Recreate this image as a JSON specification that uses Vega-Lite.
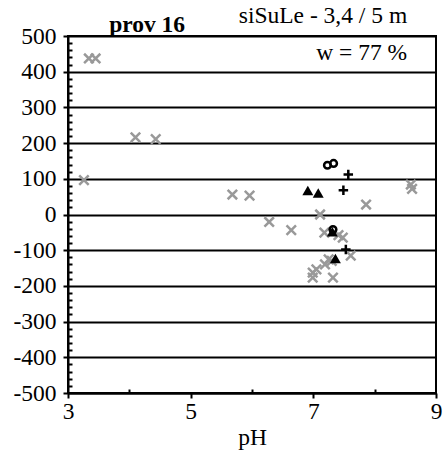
{
  "$schema": "https://vega.github.io/schema/vega-lite/v6.json",
  "width": 368,
  "height": 357,
  "autosize": {"type": "none"},
  "padding": {"left": 68, "top": 36, "right": 10, "bottom": 61},
  "background": "white",
  "config": {
    "view": {"stroke": "black", "strokeWidth": 2},
    "font": "Liberation Serif"
  },
  "data": {
    "values": [
      {"series": "gray", "pH": 3.34, "v": 437},
      {"series": "gray", "pH": 3.45, "v": 437},
      {"series": "gray", "pH": 3.26, "v": 96},
      {"series": "gray", "pH": 4.1, "v": 216},
      {"series": "gray", "pH": 4.43, "v": 211},
      {"series": "gray", "pH": 5.68, "v": 56},
      {"series": "gray", "pH": 5.96, "v": 53},
      {"series": "gray", "pH": 6.28, "v": -21},
      {"series": "gray", "pH": 6.64, "v": -44},
      {"series": "gray", "pH": 7.11, "v": 0},
      {"series": "gray", "pH": 7.18, "v": -51},
      {"series": "gray", "pH": 7.41, "v": -58},
      {"series": "gray", "pH": 7.48, "v": -65},
      {"series": "gray", "pH": 7.86, "v": 28},
      {"series": "gray", "pH": 8.59, "v": 84},
      {"series": "gray", "pH": 8.61, "v": 72},
      {"series": "gray", "pH": 7.61, "v": -115},
      {"series": "gray", "pH": 7.25, "v": -126},
      {"series": "gray", "pH": 7.3, "v": -130},
      {"series": "gray", "pH": 7.19, "v": -140},
      {"series": "gray", "pH": 7.05, "v": -154},
      {"series": "gray", "pH": 6.99, "v": -163},
      {"series": "gray", "pH": 6.99, "v": -177},
      {"series": "gray", "pH": 7.32, "v": -177},
      {"series": "tri", "pH": 6.91, "v": 67},
      {"series": "tri", "pH": 7.08, "v": 60},
      {"series": "tri", "pH": 7.36, "v": -123},
      {"series": "tri", "pH": 7.31, "v": -48},
      {"series": "plus", "pH": 7.57, "v": 112},
      {"series": "plus", "pH": 7.49, "v": 68},
      {"series": "plus", "pH": 7.53, "v": -98},
      {"series": "circ", "pH": 7.23, "v": 138},
      {"series": "circ", "pH": 7.33, "v": 143},
      {"series": "circ", "pH": 7.32, "v": -42}
    ]
  },
  "encoding": {
    "x": {
      "field": "pH",
      "type": "quantitative",
      "scale": {"domain": [3, 9], "nice": false, "zero": false},
      "axis": {
        "title": "pH",
        "titleFont": "Liberation Serif",
        "titleFontSize": 23.5,
        "titleFontWeight": "normal",
        "titleColor": "black",
        "titlePadding": 3,
        "values": [3, 4, 5, 6, 7, 8, 9],
        "labelExpr": "datum.value % 2 === 1 ? datum.label : ''",
        "labelFont": "Liberation Serif",
        "labelFontSize": 23.5,
        "labelColor": "black",
        "labelPadding": 1,
        "labelFlush": false,
        "labelOverlap": false,
        "grid": false,
        "domainColor": "black",
        "domainWidth": 2,
        "tickColor": "black",
        "tickWidth": 2,
        "tickSize": {"condition": {"test": "datum.value % 2 === 1", "value": 5}, "value": -4}
      }
    },
    "y": {
      "field": "v",
      "type": "quantitative",
      "scale": {"domain": [-500, 500], "nice": false},
      "axis": {
        "title": null,
        "values": [-500, -480, -460, -440, -420, -400, -380, -360, -340, -320, -300, -280, -260, -240, -220, -200, -180, -160, -140, -120, -100, -80, -60, -40, -20, 0, 20, 40, 60, 80, 100, 120, 140, 160, 180, 200, 220, 240, 260, 280, 300, 320, 340, 360, 380, 400, 420, 440, 460, 480, 500],
        "labelExpr": "datum.value % 100 === 0 ? toString(datum.value) : ''",
        "labelFont": "Liberation Serif",
        "labelFontSize": 23.5,
        "labelColor": "black",
        "labelPadding": 7,
        "labelFlush": false,
        "labelOverlap": false,
        "grid": true,
        "gridColor": {"condition": {"test": "datum.value % 100 === 0", "value": "black"}, "value": "transparent"},
        "gridWidth": 2,
        "gridOpacity": 1,
        "domainColor": "black",
        "domainWidth": 2,
        "tickColor": "black",
        "tickWidth": 2,
        "tickSize": {"condition": {"test": "datum.value % 100 === 0", "value": 5}, "value": -4}
      }
    }
  },
  "layer": [
    {
      "transform": [{"filter": "datum.series === 'gray'"}],
      "mark": {"type": "point", "shape": "M-1,-1L1,1M1,-1L-1,1", "filled": false, "stroke": "#999999", "strokeWidth": 2.5, "size": 90, "opacity": 1}
    },
    {
      "transform": [{"filter": "datum.series === 'tri'"}],
      "mark": {"type": "point", "shape": "triangle-up", "filled": true, "fill": "black", "size": 120, "opacity": 1}
    },
    {
      "transform": [{"filter": "datum.series === 'plus'"}],
      "mark": {"type": "point", "shape": "M-1,0L1,0M0,-1L0,1", "filled": false, "stroke": "black", "strokeWidth": 2.5, "size": 90, "opacity": 1}
    },
    {
      "transform": [{"filter": "datum.series === 'circ'"}],
      "mark": {"type": "point", "shape": "circle", "filled": false, "stroke": "black", "strokeWidth": 2.5, "size": 45, "opacity": 1}
    },
    {
      "data": {"values": [{"label": "prov 16", "pH": 4.29, "v": 511}]},
      "mark": {"type": "text", "align": "center", "baseline": "alphabetic", "font": "Liberation Serif", "fontSize": 23.5, "fontWeight": "bold", "color": "black", "clip": false},
      "encoding": {"text": {"field": "label"}}
    },
    {
      "data": {"values": [{"label": "siSuLe - 3,4 / 5 m", "pH": 8.53, "v": 536}]},
      "mark": {"type": "text", "align": "right", "baseline": "alphabetic", "font": "Liberation Serif", "fontSize": 23.5, "color": "black", "clip": false},
      "encoding": {"text": {"field": "label"}}
    },
    {
      "data": {"values": [{"label": "w = 77 %", "pH": 8.53, "v": 434}]},
      "mark": {"type": "text", "align": "right", "baseline": "alphabetic", "font": "Liberation Serif", "fontSize": 23.5, "color": "black"},
      "encoding": {"text": {"field": "label"}}
    }
  ]
}
